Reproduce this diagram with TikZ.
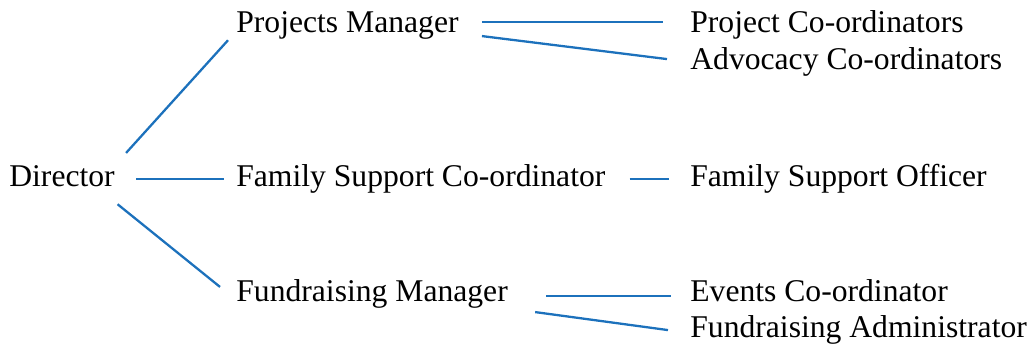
\documentclass[tikz,border=0pt]{standalone}
\usepackage{fontspec}
\setmainfont{Liberation Serif}
\definecolor{linkblue}{RGB}{28,113,188}
\begin{document}
\begin{tikzpicture}[font=\fontsize{18}{22}\selectfont,
  lbl/.style={anchor=base west,inner sep=0pt,text height=13.5pt,text depth=4.5pt},
  link/.style={draw=linkblue,line width=1.3pt}]
  \useasboundingbox (0,0) rectangle (20.68,6.94);

  % Director and managers.
  \node[lbl] (dir) at (0.18,3.20) {Director};
  \node[lbl] (pm)  at (4.72,6.28) {Projects Manager};
  \node[lbl] (fsc) at (4.72,3.20) {Family Support Co-ordinator};
  \node[lbl] (fm)  at (4.72,0.90) {Fundraising Manager};

  % Staff.
  \node[lbl] (pc)  at (13.80,6.28) {Project Co-ordinators};
  \node[lbl] (ac)  at (13.80,5.54) {Advocacy Co-ordinators};
  \node[lbl] (fso) at (13.80,3.20) {Family Support Officer};
  \node[lbl] (ev)  at (13.80,0.90) {Events Co-ordinator};
  \node[lbl] (fa)  at (13.80,0.18) {Fundraising Administrator};

  % Links.
  \draw[link] ([shift={(0.22,0.20)}]dir.north east) -- ([shift={(-0.16,0.02)}]pm.south west);
  \draw[link] ([xshift=0.42cm]dir.east) -- ([xshift=-0.24cm]fsc.west);
  \draw[link] ([shift={(0.05,-0.18)}]dir.south east) -- ([shift={(-0.32,-0.18)}]fm.north west);
  \draw[link] ([shift={(0.46,0.06)}]pm.east) -- ([shift={(-0.54,0.06)}]pc.west);
  \draw[link] ([shift={(0.46,-0.22)}]pm.east) -- ([shift={(-0.46,0.06)}]ac.west);
  \draw[link] ([xshift=0.48cm]fsc.east) -- ([xshift=-0.42cm]fso.west);
  \draw[link] ([shift={(0.76,-0.04)}]fm.east) -- ([shift={(-0.38,-0.04)}]ev.west);
  \draw[link] ([shift={(0.54,-0.36)}]fm.east) -- ([xshift=-0.44cm]fa.west);
\end{tikzpicture}
\end{document}
